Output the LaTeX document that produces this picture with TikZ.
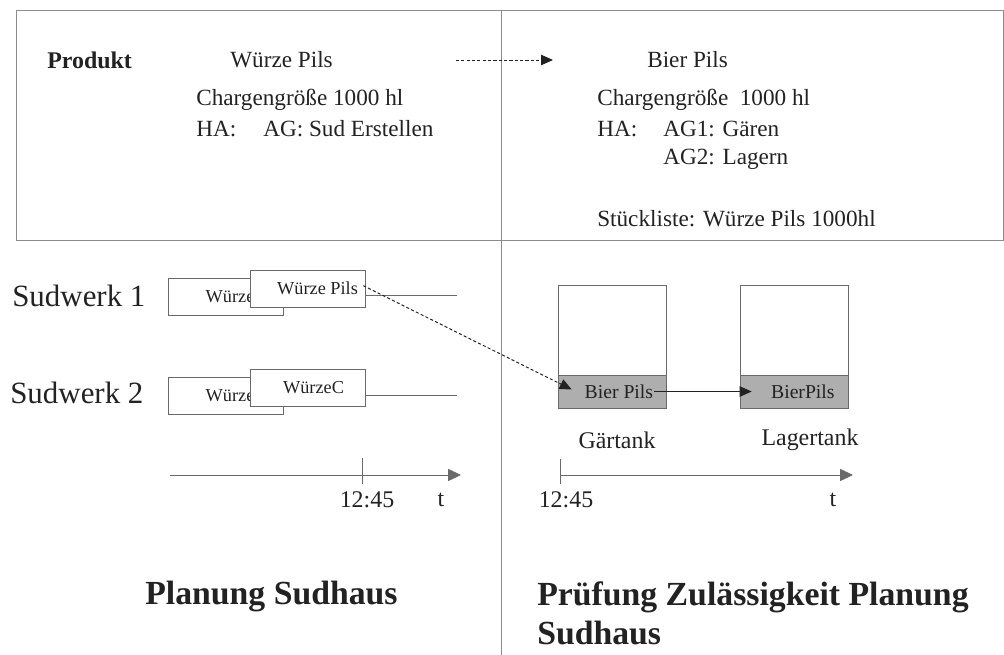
\documentclass[tikz,border=0pt]{standalone}
\usepackage{fontspec}
\setmainfont{Liberation Serif}
\usetikzlibrary{arrows.meta,positioning}
\definecolor{tankgray}{HTML}{AEAEAE}
\definecolor{framegray}{HTML}{8C8C8C}
\definecolor{boxgray}{HTML}{6A6A6A}
\definecolor{inkdark}{HTML}{222222}

\begin{document}
\begin{tikzpicture}[
 x=0.025cm,y=-0.025cm,
 txt/.style={anchor=west,inner sep=0pt,text=inkdark,font=\fontsize{16.5}{19}\selectfont},
 prod/.style={anchor=west,inner sep=0pt,text=inkdark,font=\fontsize{17}{20}\selectfont\bfseries},
 werk/.style={anchor=west,inner sep=0pt,text=inkdark,font=\fontsize{22}{26}\selectfont},
 head/.style={anchor=west,inner sep=0pt,text=inkdark,font=\fontsize{24}{28}\selectfont\bfseries},
 job/.style={draw=boxgray,fill=white,minimum width=2.875cm,minimum height=0.925cm,inner sep=0pt,text=inkdark,font=\fontsize{13}{15}\selectfont},
 tank/.style={draw=boxgray,minimum width=2.7cm,minimum height=3.075cm,inner sep=0pt},
 charge/.style={draw=boxgray,fill=tankgray,minimum width=2.7cm,minimum height=0.825cm,inner sep=0pt,text=inkdark,font=\fontsize{14}{16}\selectfont},
 tlbl/.style={inner sep=0pt,text=inkdark,font=\fontsize{17}{20}\selectfont},
 axis/.style={draw=boxgray,line width=0.6pt,-{Triangle[length=3.2mm,width=3mm]}},
 flow/.style={draw=inkdark,line width=0.6pt,-{Triangle[length=3mm,width=2.6mm]}},
 dflow/.style={flow,line width=0.7pt,dash pattern=on 2.2pt off 1.6pt}
]
\useasboundingbox (0,0) rectangle (1004,655);

% frame and divider
\draw[framegray,line width=0.6pt] (16,10) rectangle (1003,240);
\draw[framegray,line width=0.6pt] (501,10) -- (501,655);

% product data
\node[prod] (produkt) at (47,60) {Produkt};
\node[txt] (wpils) at (230,60) {Würze Pils};
\node[txt] (bpils) at (647,60) {Bier Pils};
\coordinate (pa) at (456,60);
\coordinate (pb) at (553,60);
\draw[dflow] (pa) -- (pb);

\node[txt] (wcharge) at (196,100) {Chargengröße 1000 hl};
\node[txt] (wha) at (196,129) {HA:};
\node[txt] (wag) at (263,129) {AG: Sud Erstellen};

\node[txt] (bcharge) at (597,100) {Chargengröße\ \ 1000 hl};
\node[txt] (bha) at (597,129) {HA:};
\node[txt] (bag1) at (663,129) {AG1: Gären};
\node[txt] (bag2) at (663,159) {AG2: Lagern};
\node[txt] (bstl) at (597,219) {Stückliste: Würze Pils 1000hl};

% Planung Sudhaus
\node[werk] (sw1) at (12,296) {Sudwerk 1};
\node[werk] (sw2) at (10,393) {Sudwerk 2};

\node[job] (s1a) at (225.5,296.5) {\hspace*{0.5em}Würze};
\node[job] (s1b) at (307.5,288.5) {\hspace*{1.1em}Würze Pils};
\coordinate (s1e) at (457,295);
\draw[boxgray] (s1b.east |- s1e) -- (s1e);

\node[job] (s2a) at (225.5,395.5) {\hspace*{0.5em}Würze};
\node[job] (s2b) at (308,388) {\hspace*{0.6em}WürzeC};
\coordinate (s2e) at (457,395);
\draw[boxgray] (s2b.east |- s2e) -- (s2e);

\coordinate (t1a) at (170,475);
\coordinate (t1b) at (461,475);
\draw[axis] (t1a) -- (t1b);
\coordinate (k1) at (362,475);
\draw[boxgray] ([yshift=0.42cm]k1) -- ([yshift=-0.22cm]k1);
\node[tlbl] (tm1) at (367,500) {12:45};
\node[tlbl] (tt1) at (441,500) {t};

% Pruefung
\node[tank] (gtank) at (612,346.5) {};
\node[charge,anchor=south] (gbier) at (gtank.south) {\hspace*{0.7em}Bier Pils};
\node[tank] (ltank) at (794,346.5) {};
\node[charge,anchor=south] (lbier) at (ltank.south) {\hspace*{0.9em}BierPils};

\draw[dflow] ([xshift=-0.05cm,yshift=0.07cm]s1b.east) -- ([xshift=0.35cm,yshift=0.05cm]gbier.west);
\draw[flow] ([xshift=-0.3cm]gbier.east) -- ([xshift=0.3cm]lbier.west);

\node[tlbl] (gname) at (617,440) {Gärtank};
\node[tlbl] (lname) at (810,440) {Lagertank};

\coordinate (t2a) at (560,475);
\coordinate (t2b) at (853,475);
\draw[axis] (t2a) -- (t2b);
\draw[boxgray] ([yshift=0.4cm]t2a) -- ([yshift=-0.22cm]t2a);
\node[tlbl] (tm2) at (566,500) {12:45};
\node[tlbl] (tt2) at (833,500) {t};

% headings
\node[head] (hl) at (145,597) {Planung Sudhaus};
\node[head] (hr1) at (537,597) {Prüfung Zulässigkeit Planung};
\node[head] (hr2) at (537,633) {Sudhaus};
\end{tikzpicture}
\end{document}
